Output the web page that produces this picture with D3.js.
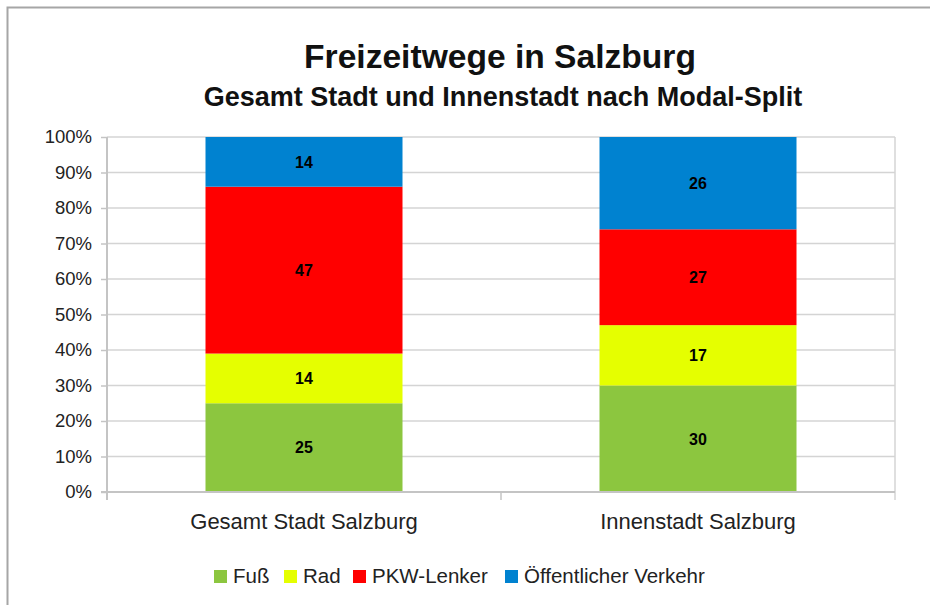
<!DOCTYPE html>
<html><head><meta charset="utf-8">
<script src="https://cdn.jsdelivr.net/npm/d3@7"></script>
<style>body{margin:0;background:#fff}svg{display:block;font-family:"Liberation Sans",Arial,sans-serif}</style>
</head><body>
<svg id="c" width="930" height="605"></svg>
<script>
const categories = ["Gesamt Stadt Salzburg", "Innenstadt Salzburg"];
const seriesNames = ["Fuß", "Rad", "PKW-Lenker", "Öffentlicher Verkehr"];
const seriesColors = ["#8cc63f", "#e5ff00", "#ff0000", "#0082d0"];
const fuss = [25, 30];
const rad = [14, 17];
const pkw = [47, 27];
const oeffentlich = [14, 26];
const yTicks = [0, 10, 20, 30, 40, 50, 60, 70, 80, 90, 100];
const titleText = "Freizeitwege in Salzburg";
const subtitleText = "Gesamt Stadt und Innenstadt nach Modal-Split";

const seriesValues = [fuss, rad, pkw, oeffentlich];
const rows = categories.map((c, i) => {
  const r = {cat: c};
  seriesNames.forEach((s, j) => r[s] = seriesValues[j][i]);
  return r;
});

const svg = d3.select("#c");
const m = {left: 107, right: 895, top: 137, bottom: 492};

// frame
svg.append("path").attr("d", "M7.5,605 V7.5 H930").attr("fill", "none")
  .attr("stroke", "#a6a6a6").attr("stroke-width", 2);

const x = d3.scaleBand().domain(categories).range([m.left, m.right]).paddingInner(0).paddingOuter(0);
const y = d3.scaleLinear().domain([0, 100]).range([m.bottom, m.top]);

// gridlines
svg.append("g").selectAll("line").data(yTicks.filter(t => t > 0)).join("line")
  .attr("x1", m.left).attr("x2", m.right)
  .attr("y1", d => y(d)).attr("y2", d => y(d))
  .attr("stroke", "#d4d4d4").attr("stroke-width", 1.5);
// right border of plot
svg.append("line").attr("x1", m.right).attr("x2", m.right).attr("y1", m.top).attr("y2", m.bottom + 8)
  .attr("stroke", "#d4d4d4").attr("stroke-width", 1.5);

// bars
const stack = d3.stack().keys(seriesNames)(rows);
const bw = x.bandwidth() / 2;
const g = svg.append("g");
stack.forEach((layer, j) => {
  g.selectAll(null).data(layer).join("rect")
    .attr("x", d => x(d.data.cat) + x.bandwidth() / 2 - bw / 2)
    .attr("width", bw)
    .attr("y", d => y(d[1]))
    .attr("height", d => y(d[0]) - y(d[1]))
    .attr("fill", seriesColors[j]);
  g.selectAll(null).data(layer).join("text")
    .attr("x", d => x(d.data.cat) + x.bandwidth() / 2)
    .attr("y", d => (y(d[0]) + y(d[1])) / 2)
    .attr("dy", "0.36em")
    .attr("text-anchor", "middle")
    .attr("font-weight", "bold").attr("font-size", 16)
    .text(d => d[1] - d[0]);
});

// y axis
const yAxis = d3.axisLeft(y).tickValues(yTicks).tickFormat(d => d + "%").tickSize(6).tickPadding(9);
const ya = svg.append("g").attr("transform", `translate(${m.left},0)`).call(yAxis);
ya.select(".domain").remove();
ya.selectAll(".tick line").attr("stroke", "#c4c4c4").attr("stroke-width", 1.5);
ya.selectAll(".tick text").attr("font-size", 18.5).attr("fill", "#222").attr("font-family", "Liberation Sans, Arial, sans-serif");
svg.append("line").attr("x1", m.left).attr("x2", m.left).attr("y1", m.top).attr("y2", m.bottom + 8)
  .attr("stroke", "#c4c4c4").attr("stroke-width", 2);

// x axis
svg.append("line").attr("x1", m.left - 6).attr("x2", m.right).attr("y1", m.bottom).attr("y2", m.bottom)
  .attr("stroke", "#c4c4c4").attr("stroke-width", 2);
const bounds = [m.left + x.bandwidth()];
svg.append("g").selectAll("line").data(bounds).join("line")
  .attr("x1", d => d).attr("x2", d => d).attr("y1", m.bottom).attr("y2", m.bottom + 8)
  .attr("stroke", "#c4c4c4").attr("stroke-width", 1.5);
svg.append("g").selectAll("text").data(categories).join("text")
  .attr("x", d => x(d) + x.bandwidth() / 2).attr("y", 529)
  .attr("text-anchor", "middle").attr("font-size", 22).attr("fill", "#222")
  .text(d => d);

// titles
svg.append("text").attr("x", 500).attr("y", 68).attr("text-anchor", "middle")
  .attr("font-weight", "bold").attr("font-size", 33.6).attr("fill", "#111").text(titleText);
svg.append("text").attr("x", 503).attr("y", 106).attr("text-anchor", "middle")
  .attr("font-weight", "bold").attr("font-size", 27).attr("fill", "#111").text(subtitleText);

// legend
const legendX = [214, 284, 353, 505];
const lg = svg.append("g");
seriesNames.forEach((s, j) => {
  lg.append("rect").attr("x", legendX[j]).attr("y", 570).attr("width", 13).attr("height", 13).attr("fill", seriesColors[j]);
  lg.append("text").attr("x", legendX[j] + 19).attr("y", 583).attr("font-size", 20.5).attr("fill", "#222").text(s);
});
</script>
</body></html>
